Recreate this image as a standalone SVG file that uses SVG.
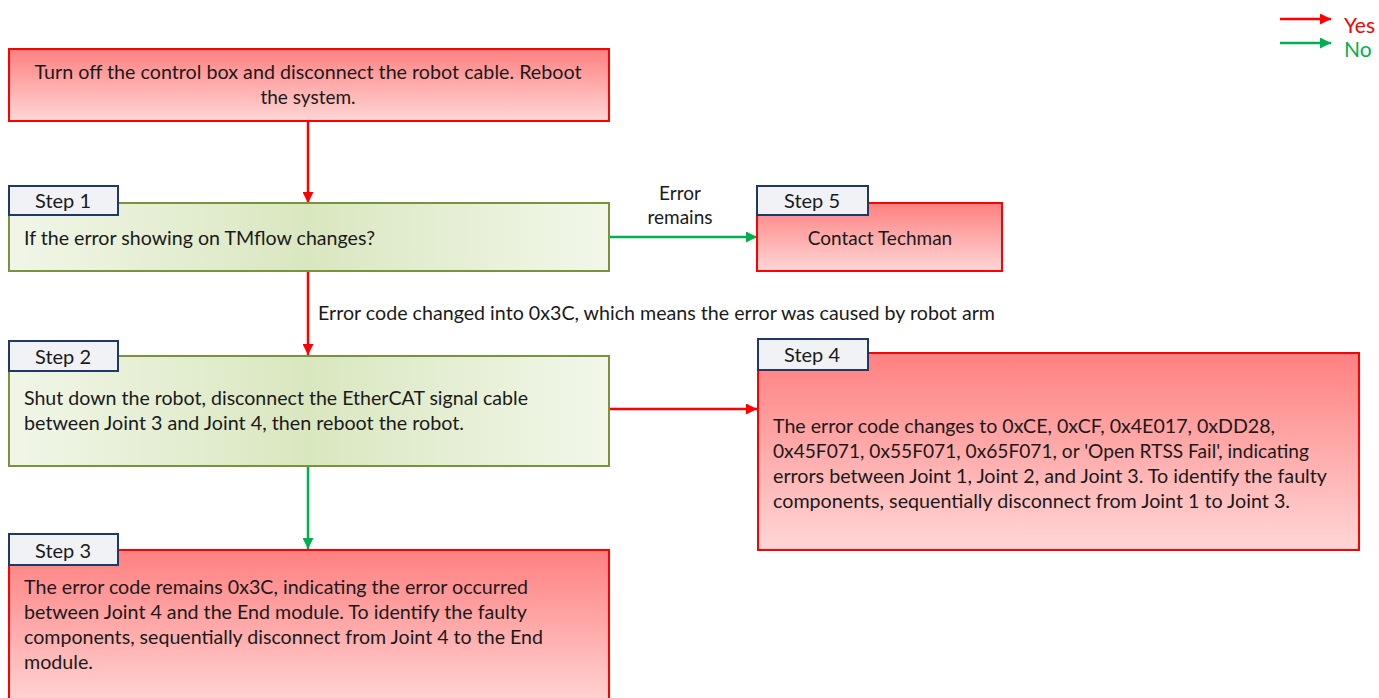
<svg xmlns="http://www.w3.org/2000/svg" width="1379" height="698" viewBox="0 0 1379 698">
<defs>
<linearGradient id="gRed" x1="0" y1="0" x2="0" y2="1">
<stop offset="0" stop-color="#ff8080"/>
<stop offset="1" stop-color="#ffd6d6"/>
</linearGradient>
<linearGradient id="gGreen" x1="0" y1="0" x2="1" y2="0">
<stop offset="0" stop-color="#f1f6e8"/>
<stop offset="0.5" stop-color="#d9e7bf"/>
<stop offset="1" stop-color="#f2f7ea"/>
</linearGradient>
<marker id="aRed" viewBox="0 0 10 10" refX="10" refY="5" markerWidth="4.4" markerHeight="4.4" orient="auto" markerUnits="strokeWidth">
<path d="M0,0 L10,5 L0,10 z" fill="#ff0000"/>
</marker>
<marker id="aGreen" viewBox="0 0 10 10" refX="10" refY="5" markerWidth="4.4" markerHeight="4.4" orient="auto" markerUnits="strokeWidth">
<path d="M0,0 L10,5 L0,10 z" fill="#00b050"/>
</marker>
</defs>
<style>
text{font-family:Lato,"Liberation Sans",sans-serif;font-size:19px;fill:#1a1a1a}
.red{fill:url(#gRed);stroke:#ff0000;stroke-width:2}
.green{fill:url(#gGreen);stroke:#77933c;stroke-width:2}
.tab{fill:#f0f2f6;stroke:#1f3864;stroke-width:2}
.tt{font-size:20px;text-anchor:middle}
.c{text-anchor:middle}
.lg{font-size:21px}
.ly{stroke:#ff0000;stroke-width:2.5;fill:none;marker-end:url(#aRed)}
.ln{stroke:#00b050;stroke-width:2.5;fill:none;marker-end:url(#aGreen)}
</style>
<rect width="1379" height="698" fill="#ffffff"/>

<g id="legend">
<line class="ly" x1="1280" y1="19" x2="1331" y2="19"/>
<text class="lg" x="1344" y="33" style="fill:#ff0000">Yes</text>
<line class="ln" x1="1280" y1="43" x2="1331" y2="43"/>
<text class="lg" x="1344" y="57" style="fill:#00b050">No</text>
</g>

<g id="connectors">
<line class="ly" x1="308" y1="121" x2="308" y2="203"/>
<line class="ln" x1="609" y1="237" x2="757" y2="237"/>
<text class="c" x="680" y="200">Error</text>
<text class="c" x="680" y="224">remains</text>
<line class="ly" x1="308" y1="271" x2="308" y2="355"/>
<text x="318" y="320" textLength="677" lengthAdjust="spacingAndGlyphs">Error code changed into 0x3C, which means the error was caused by robot arm</text>
<line class="ly" x1="609" y1="409" x2="757" y2="409"/>
<line class="ln" x1="308" y1="466" x2="308" y2="549"/>
</g>

<g id="start">
<rect class="red" x="9" y="49" width="600" height="72"/>
<text class="c" x="308" y="79" textLength="547" lengthAdjust="spacingAndGlyphs">Turn off the control box and disconnect the robot cable. Reboot</text>
<text class="c" x="308" y="104">the system.</text>
</g>

<g id="step1">
<rect class="green" x="9" y="203" width="600" height="68"/>
<rect class="tab" x="9" y="186" width="109" height="29"/>
<text class="tt" x="63" y="208">Step 1</text>
<text x="24" y="245" textLength="351" lengthAdjust="spacingAndGlyphs">If the error showing on TMflow changes?</text>
</g>

<g id="step5">
<rect class="red" x="757" y="203" width="245" height="68"/>
<rect class="tab" x="757" y="186" width="111" height="29"/>
<text class="tt" x="812" y="208">Step 5</text>
<text class="c" x="880" y="245">Contact Techman</text>
</g>

<g id="step2">
<rect class="green" x="9" y="356" width="600" height="110"/>
<rect class="tab" x="9" y="341" width="109" height="30"/>
<text class="tt" x="63" y="364">Step 2</text>
<text x="24" y="405" textLength="504" lengthAdjust="spacingAndGlyphs">Shut down the robot, disconnect the EtherCAT signal cable</text>
<text x="24" y="430" textLength="440" lengthAdjust="spacingAndGlyphs">between Joint 3 and Joint 4, then reboot the robot.</text>
</g>

<g id="step4">
<rect class="red" x="758" y="353" width="601" height="197"/>
<rect class="tab" x="758" y="339" width="110" height="31"/>
<text class="tt" x="812" y="362">Step 4</text>
<text x="773" y="433" textLength="502" lengthAdjust="spacingAndGlyphs">The error code changes to 0xCE, 0xCF, 0x4E017, 0xDD28,</text>
<text x="773" y="458" textLength="536" lengthAdjust="spacingAndGlyphs">0x45F071, 0x55F071, 0x65F071, or 'Open RTSS Fail', indicating</text>
<text x="773" y="483" textLength="554" lengthAdjust="spacingAndGlyphs">errors between Joint 1, Joint 2, and Joint 3. To identify the faulty</text>
<text x="773" y="508" textLength="517" lengthAdjust="spacingAndGlyphs">components, sequentially disconnect from Joint 1 to Joint 3.</text>
</g>

<g id="step3">
<rect class="red" x="9" y="550" width="600" height="160"/>
<rect class="tab" x="9" y="534" width="109" height="31"/>
<text class="tt" x="63" y="558">Step 3</text>
<text x="24" y="594" textLength="504" lengthAdjust="spacingAndGlyphs">The error code remains 0x3C, indicating the error occurred</text>
<text x="24" y="619" textLength="503" lengthAdjust="spacingAndGlyphs">between Joint 4 and the End module. To identify the faulty</text>
<text x="24" y="644" textLength="519" lengthAdjust="spacingAndGlyphs">components, sequentially disconnect from Joint 4 to the End</text>
<text x="24" y="669" textLength="69" lengthAdjust="spacingAndGlyphs">module.</text>
</g>
</svg>
